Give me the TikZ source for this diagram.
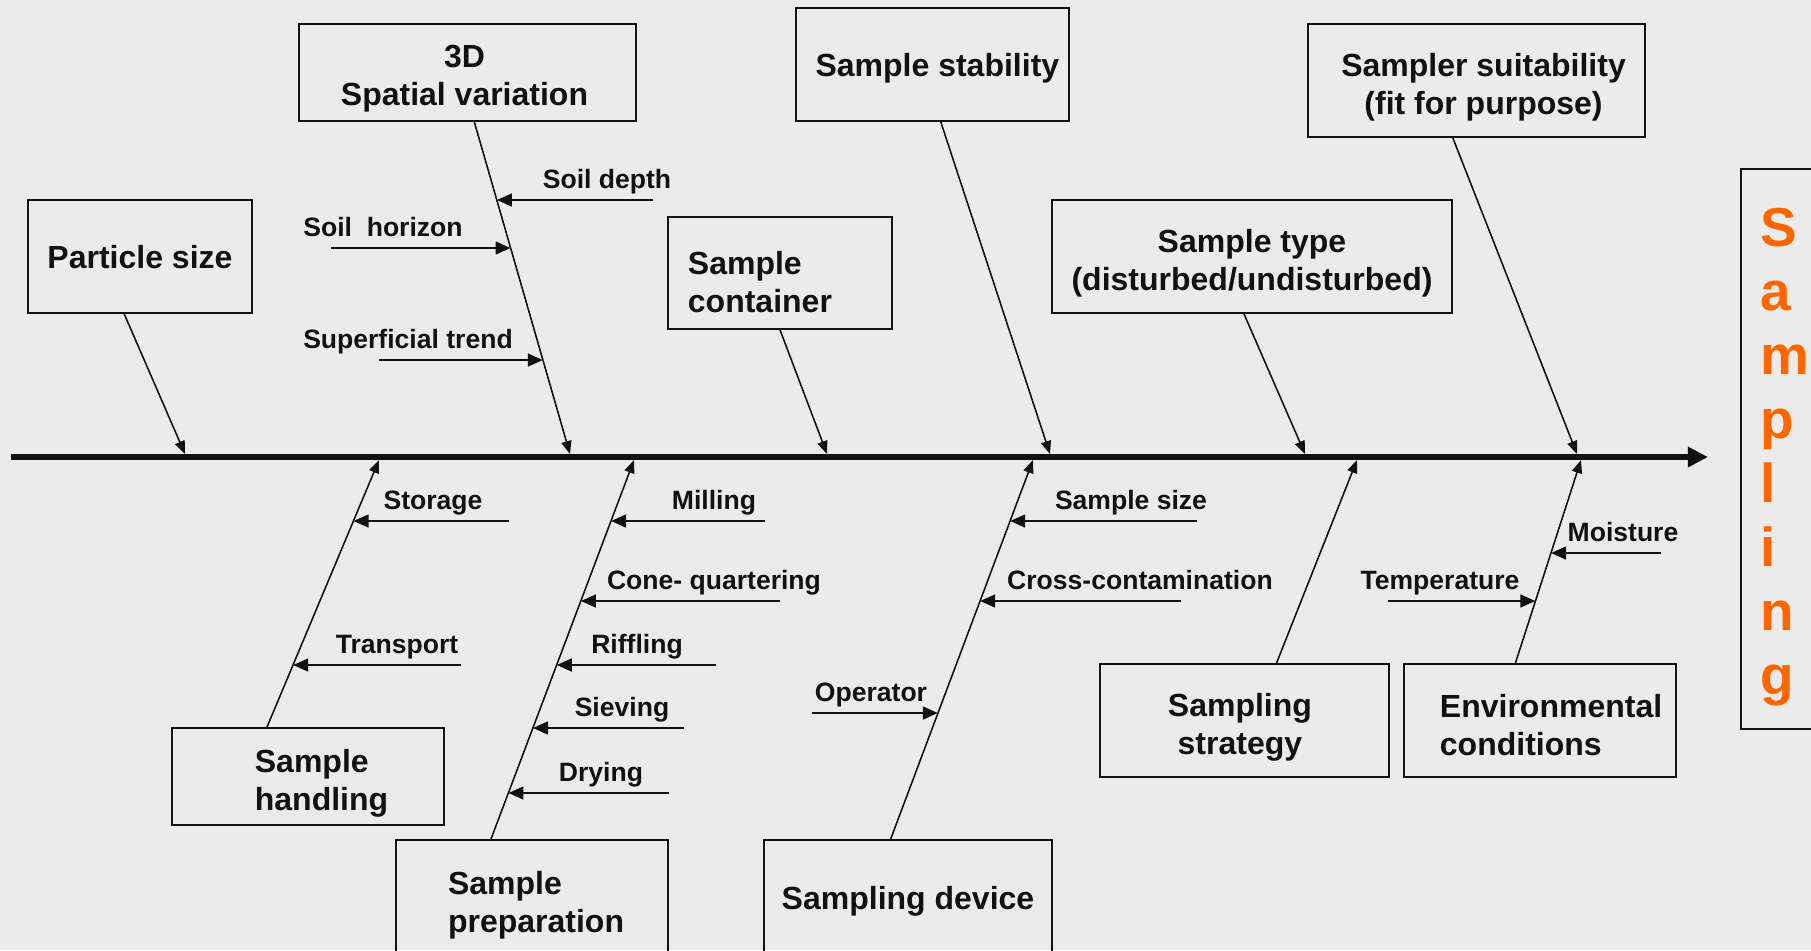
\documentclass[tikz,border=0pt]{standalone}
\usepackage{fontspec}
\setmainfont{Liberation Sans}
\usetikzlibrary{arrows.meta,calc,intersections}
\definecolor{paper}{HTML}{EBEBEB}
\definecolor{ink}{HTML}{111111}
\definecolor{effect}{HTML}{FF6600}
% #1 column, #2 left pad, #3 right pad, #4 top of first line, #5 lines
\newcommand{\boxtxt}[5]{\hspace*{#2}\begin{tabular}{@{}#1@{}}\rule{0pt}{#4}#5\end{tabular}\hspace*{#3}}

\begin{document}
\begin{tikzpicture}[x=0.01cm, y=-0.01cm,
    cause/.style={draw=ink, line width=0.45pt, inner sep=0pt, text=ink, font=\fontsize{9.1}{10.8}\selectfont\bfseries},
    sublbl/.style={inner sep=0pt, text height=7pt, text depth=1.6pt, text=ink, font=\fontsize{7.55}{9}\selectfont\bfseries},
    effectbox/.style={draw=ink, line width=0.45pt, anchor=north west, minimum width=1.2cm, minimum height=5.6cm},
    effecttxt/.style={inner sep=0pt, anchor=west, align=left, text=effect, font=\fontsize{15.6}{18.2}\selectfont\bfseries},
    spine/.style={draw=ink, line width=1.7pt, -{Triangle[length=5.7pt, width=5.5pt]}},
    bone/.style={draw=ink, line width=0.45pt, -{Triangle[length=3.7pt, width=2.9pt]}},
    sub/.style={draw=ink, line width=0.75pt, -{Triangle[length=4.3pt, width=3.6pt]}}]
  \useasboundingbox (0,0) rectangle (1811,950);
  \fill[paper] (0,0) rectangle (1811,950);
  \clip (0,0) rectangle (1811,950);
  % causes above the spine
  \node[cause, minimum width=2.24cm, minimum height=1.13cm] (PS) at (140,256.5) {\boxtxt{c}{0pt}{0pt}{9.84pt}{Particle size}};
  \node[cause, minimum width=3.37cm, minimum height=0.97cm] (SV) at (467.5,72.5) {\boxtxt{c}{0pt}{1.7pt}{11pt}{3D\\Spatial variation}};
  \node[cause, minimum width=2.24cm, minimum height=1.12cm] (SC) at (780,273) {\boxtxt{l}{0pt}{11.4pt}{14.8pt}{Sample\\container}};
  \node[cause, minimum width=2.73cm, minimum height=1.13cm] (SS) at (932.5,64.5) {\boxtxt{c}{2.8pt}{0pt}{9.9pt}{Sample stability}};
  \node[cause, minimum width=4.00cm, minimum height=1.13cm] (ST) at (1252,256.5) {\boxtxt{c}{0pt}{0pt}{12pt}{Sample type\\(disturbed/undisturbed)}};
  \node[cause, minimum width=3.37cm, minimum height=1.13cm] (SU) at (1476.5,80.5) {\boxtxt{c}{4pt}{0pt}{11.6pt}{Sampler suitability\\(fit for purpose)}};
  % causes below the spine
  \node[cause, minimum width=2.72cm, minimum height=0.97cm] (SH) at (308,776.5) {\boxtxt{l}{7.7pt}{0pt}{11.6pt}{Sample\\handling}};
  \node[cause, minimum width=2.72cm, minimum height=1.20cm] (SP) at (532,900) {\boxtxt{l}{2.3pt}{0pt}{11pt}{Sample\\preparation}};
  \node[cause, minimum width=2.88cm, minimum height=1.20cm] (SD) at (908,900) {\boxtxt{c}{0pt}{0pt}{8.5pt}{Sampling device}};
  \node[cause, minimum width=2.89cm, minimum height=1.13cm] (SST) at (1244.5,720.5) {\boxtxt{c}{0pt}{2.6pt}{12pt}{Sampling\\strategy}};
  \node[cause, minimum width=2.72cm, minimum height=1.13cm] (EC) at (1540,720.5) {\boxtxt{l}{6.3pt}{0pt}{12.2pt}{Environmental\\conditions}};
  % effect
  \node[effectbox] (EF) at (1740,168) {};
  \node[effecttxt] (EFt) at (1759.5,457) {S\\a\\m\\p\\l\\i\\n\\g};
  % spine
  \coordinate (tail) at (11,457);
  \coordinate (head) at (1708,457);
  \draw[spine] (tail) -- (head);
  % main bones
  \foreach \bx/\fr/\tx in {PS/.43/185, SV/.52/570, SC/.5/827, SS/.53/1050, ST/.48/1305, SU/.43/1577}{
    \coordinate (t\bx) at (\tx,454);
    \coordinate (b\bx) at ($(\bx.south west)!\fr!(\bx.south east)$);
    \draw[bone, name path global=bone\bx] (b\bx) -- (t\bx);
  }
  \foreach \bx/\fr/\tx in {SH/.35/379, SP/.35/634, SD/.44/1033, SST/.61/1357, EC/.41/1581}{
    \coordinate (t\bx) at (\tx,460);
    \coordinate (b\bx) at ($(\bx.north west)!\fr!(\bx.north east)$);
    \draw[bone, name path global=bone\bx] (b\bx) -- (t\bx);
  }
  % sub-causes
  \foreach \bx/\tx/\ty/\lx/\txt [count=\i] in {SV/653/200/607/Soil depth, SV/331/248/383/Soil\ \ horizon,
      SV/379/360/408/Superficial trend, SH/509/521/433/Storage, SH/461/665/397/Transport,
      SP/765/521/714/Milling, SP/780/601/714/Cone- quartering, SP/716/665/637/Riffling,
      SP/684/728/622/Sieving, SP/669/793/601/Drying, SD/812/713/871/Operator,
      SD/1197/521/1131/Sample size, SD/1181/601/1140/Cross-contamination,
      EC/1388/601/1440/Temperature, EC/1661/553/1623/Moisture}{
    \coordinate (s\i) at (\tx,\ty);
    \path[name path=hz] (s\i-|tail) -- (s\i-|EF.east);
    \draw[sub, name intersections={of=hz and bone\bx}] (s\i) -- (intersection-1);
    \node[sublbl] (l\i) at (\lx,\ty-21) {\txt};
  }
\end{tikzpicture}
\end{document}
